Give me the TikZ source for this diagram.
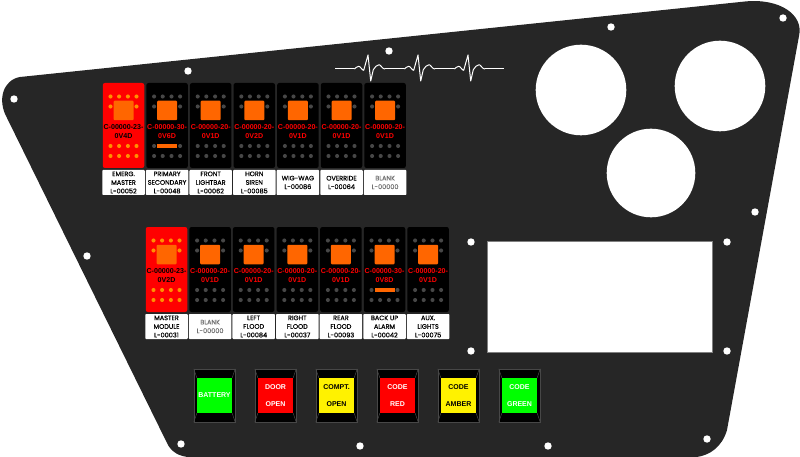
\documentclass[tikz,border=0pt]{standalone}
\usepackage{fontspec}
\setmainfont{Liberation Sans}
\newfontfamily\tagfont[FakeBold=0.5]{Poppins}
\usetikzlibrary{positioning}

\definecolor{panelgray}{HTML}{262626}
\definecolor{dotgray}{HTML}{474747}
\definecolor{padorange}{HTML}{FF6600}
\definecolor{dotorange}{HTML}{FF9000}

% face of a rocker: name, dot colour, code colour, two code lines
\newcommand{\rockerface}[5]{
  \begin{scope}[shift={(#1.center)}]
    \foreach \px in {-13,-4.4,4.4,13} {
      \fill[#2] (\px,-29) circle (2.05);
      \fill[#2] (\px,30.5) circle (2.05);
    }
    \fill[#2] (-13,-19) circle (2.05);
    \fill[#2] (13,-19) circle (2.05);
    \node[pad] (#1pad) at (0,-15) {};
    \node[codetext,text=#3] (#1code) at (0,5.7) {#4\\#5};
  \end{scope}
}
\newcommand{\lowerdots}[2]{
  \begin{scope}[shift={(#1.center)}]
    \foreach \px in {-13,-4.4,4.4,13}
      \fill[#2] (\px,20.5) circle (2.05);
  \end{scope}
}
\newcommand{\lowerbar}[1]{
  \begin{scope}[shift={(#1.center)}]
    \fill[dotgray] (-13,20.5) circle (2.05);
    \fill[dotgray] (13,20.5) circle (2.05);
    \fill[padorange] (-10,18.3) rectangle (10,22.7);
  \end{scope}
}
\newcommand{\bezellines}[2]{
  \draw[bezelline] (#1.north west) -- (#2.north west);
  \draw[bezelline] (#1.north east) -- (#2.north east);
  \draw[bezelline] (#1.south west) -- (#2.south west);
  \draw[bezelline] (#1.south east) -- (#2.south east);
}

\begin{document}
\begin{tikzpicture}[x=1pt,y=-1pt]
  \tikzstyle{rocker}=[rectangle,fill=black,rounded corners=2.2pt,minimum width=41.5pt,
                      minimum height=85pt,inner sep=0]
  \tikzstyle{active}=[fill=red]
  \tikzstyle{pad}=[rectangle,fill=padorange,rounded corners=1pt,minimum width=20pt,
                   minimum height=19.5pt,inner sep=0]
  \tikzstyle{codetext}=[font=\bfseries\fontsize{7.1}{9}\selectfont,align=center,inner sep=0]
  \tikzstyle{tag}=[rectangle,fill=white,rounded corners=0.8pt,minimum width=42.5pt,
                   minimum height=25pt,inner sep=0,align=center,text=black,
                   font=\tagfont\fontsize{6.5}{8.6}\selectfont]
  \tikzstyle{blank}=[text=black!55]
  \tikzstyle{bezel}=[rectangle,fill=black,draw=dotgray,line width=0.5pt,minimum width=41pt,
                     minimum height=53pt,inner sep=0]
  \tikzstyle{lens}=[rectangle,minimum width=35pt,minimum height=35pt,inner sep=0,align=center,
                    font=\bfseries\fontsize{7}{17}\selectfont]
  \tikzstyle{bezelline}=[draw=dotgray,line width=0.5pt]
  \tikzstyle{hole}=[fill=white]
  \tikzset{beat/.pic={
    \draw[white,line width=1pt,line join=round] (-13.7,0)
      .. controls (-12,-1) and (-11,-2.7) .. (-9.3,-2.7)
      .. controls (-7.5,-2.7) and (-6,1.3) .. (-4.3,1.3)
      -- (0,-14) -- (2.7,12) -- (5.3,0.7)
      .. controls (7,-2) and (9,-4.3) .. (11,-4.3)
      .. controls (13,-4.3) and (14,0) .. (17,0);
  }}
  \useasboundingbox (0,0) rectangle (800,457);

  % panel outline
  \fill[panelgray] (745,1.5) .. controls (780,-2) and (804,15) .. (799,36)
    -- (727,430) .. controls (722,447) and (710,455) .. (697,457)
    -- (190,457) .. controls (180,457) and (171,452) .. (167,443)
    -- (7,118) .. controls (-3,100) and (3,80) .. (20,77) -- cycle;

  % cut-outs
  \fill[hole] (581,90) circle (45.3);
  \fill[hole] (720,86) circle (45.3);
  \fill[hole] (651,173) circle (44.3);
  \filldraw[hole,draw=gray,line width=0.5pt] (487,241) rectangle (712,352);

  % screw holes
  \foreach \hx/\hy in {14/99,188/71,389/51,611/27,783/18,755/212,727/242,727/351,471/242,
                       471/351,707/439,548/446,360/446,181/444,87/256}
    \fill[hole] (\hx,\hy) circle (3.7);

  % heart line
  \draw[white,line width=1pt] (335,69) -- (354.3,69) (385,69) -- (404.3,69)
    (435,69) -- (454.3,69) (485,69) -- (504,69);
  \pic at (368,69) {beat};
  \pic at (418,69) {beat};
  \pic at (468,69) {beat};

  % upper row
  \begin{scope}[node distance=43.6pt]
    \node[rocker,active] (A) at (123.5,125.5) {};
    \node[rocker]        (B) [right of=A] {};
    \node[rocker]        (C) [right of=B] {};
    \node[rocker]        (D) [right of=C] {};
    \node[rocker]        (E) [right of=D] {};
    \node[rocker]        (F) [right of=E] {};
    \node[rocker]        (G) [right of=F] {};
    \node[rocker,active] (H) at (166.5,269.5) {};
    \node[rocker]        (I) [right of=H] {};
    \node[rocker]        (J) [right of=I] {};
    \node[rocker]        (K) [right of=J] {};
    \node[rocker]        (L) [right of=K] {};
    \node[rocker]        (M) [right of=L] {};
    \node[rocker]        (N) [right of=M] {};
  \end{scope}

  \rockerface{A}{dotorange}{black}{C-00000-23-}{0V4D}
  \rockerface{B}{dotgray}{red}{C-00000-30-}{0V6D}
  \rockerface{C}{dotgray}{red}{C-00000-20-}{0V1D}
  \rockerface{D}{dotgray}{red}{C-00000-20-}{0V2D}
  \rockerface{E}{dotgray}{red}{C-00000-20-}{0V1D}
  \rockerface{F}{dotgray}{red}{C-00000-20-}{0V1D}
  \rockerface{G}{dotgray}{red}{C-00000-20-}{0V1D}
  \rockerface{H}{dotorange}{black}{C-00000-23-}{0V2D}
  \rockerface{I}{dotgray}{red}{C-00000-20-}{0V1D}
  \rockerface{J}{dotgray}{red}{C-00000-20-}{0V1D}
  \rockerface{K}{dotgray}{red}{C-00000-20-}{0V1D}
  \rockerface{L}{dotgray}{red}{C-00000-20-}{0V1D}
  \rockerface{M}{dotgray}{red}{C-00000-30-}{0V8D}
  \rockerface{N}{dotgray}{red}{C-00000-20-}{0V1D}

  \lowerdots{A}{dotorange}
  \lowerbar{B}
  \lowerdots{C}{dotgray}
  \lowerdots{D}{dotgray}
  \lowerdots{E}{dotgray}
  \lowerdots{F}{dotgray}
  \lowerdots{G}{dotgray}
  \lowerdots{H}{dotorange}
  \lowerdots{I}{dotgray}
  \lowerdots{J}{dotgray}
  \lowerdots{K}{dotgray}
  \lowerdots{L}{dotgray}
  \lowerbar{M}
  \lowerdots{N}{dotgray}

  % labels under the rockers
  \begin{scope}[node distance=57pt]
    \node[tag]       (tagA) [below of=A] {EMERG.\\MASTER\\L-00052};
    \node[tag]       (tagB) [below of=B] {PRIMARY\\SECONDARY\\L-00048};
    \node[tag]       (tagC) [below of=C] {FRONT\\LIGHTBAR\\L-00062};
    \node[tag]       (tagD) [below of=D] {HORN\\SIREN\\L-00085};
    \node[tag]       (tagE) [below of=E] {WIG-WAG\\L-00086};
    \node[tag]       (tagF) [below of=F] {OVERRIDE\\L-00064};
    \node[tag,blank] (tagG) [below of=G] {BLANK\\L-00000};
    \node[tag]       (tagH) [below of=H] {MASTER\\MODULE\\L-00031};
    \node[tag,blank] (tagI) [below of=I] {BLANK\\L-00000};
    \node[tag]       (tagJ) [below of=J] {LEFT\\FLOOD\\L-00084};
    \node[tag]       (tagK) [below of=K] {RIGHT\\FLOOD\\L-00037};
    \node[tag]       (tagL) [below of=L] {REAR\\FLOOD\\L-00093};
    \node[tag]       (tagM) [below of=M] {BACK UP\\ALARM\\L-00042};
    \node[tag]       (tagN) [below of=N] {AUX.\\LIGHTS\\L-00075};
  \end{scope}

  % indicator lamps
  \begin{scope}[node distance=61pt]
    \node[bezel] (P) at (214.5,395.5) {};
    \node[bezel] (Q) [right of=P] {};
    \node[bezel] (R) [right of=Q] {};
    \node[bezel] (S) [right of=R] {};
    \node[bezel] (T) [right of=S] {};
    \node[bezel] (U) [right of=T] {};
  \end{scope}
  \node[lens,fill=green,text=white] (lensP) at (P) {BATTERY};
  \node[lens,fill=red,text=white] (lensQ) at (Q) {DOOR\\OPEN};
  \node[lens,fill=yellow,text=black] (lensR) at (R) {COMPT.\\OPEN};
  \node[lens,fill=red,text=white] (lensS) at (S) {CODE\\RED};
  \node[lens,fill=yellow,text=black] (lensT) at (T) {CODE\\AMBER};
  \node[lens,fill=green,text=white] (lensU) at (U) {CODE\\GREEN};
  \bezellines{P}{lensP}
  \bezellines{Q}{lensQ}
  \bezellines{R}{lensR}
  \bezellines{S}{lensS}
  \bezellines{T}{lensT}
  \bezellines{U}{lensU}
\end{tikzpicture}
\end{document}
